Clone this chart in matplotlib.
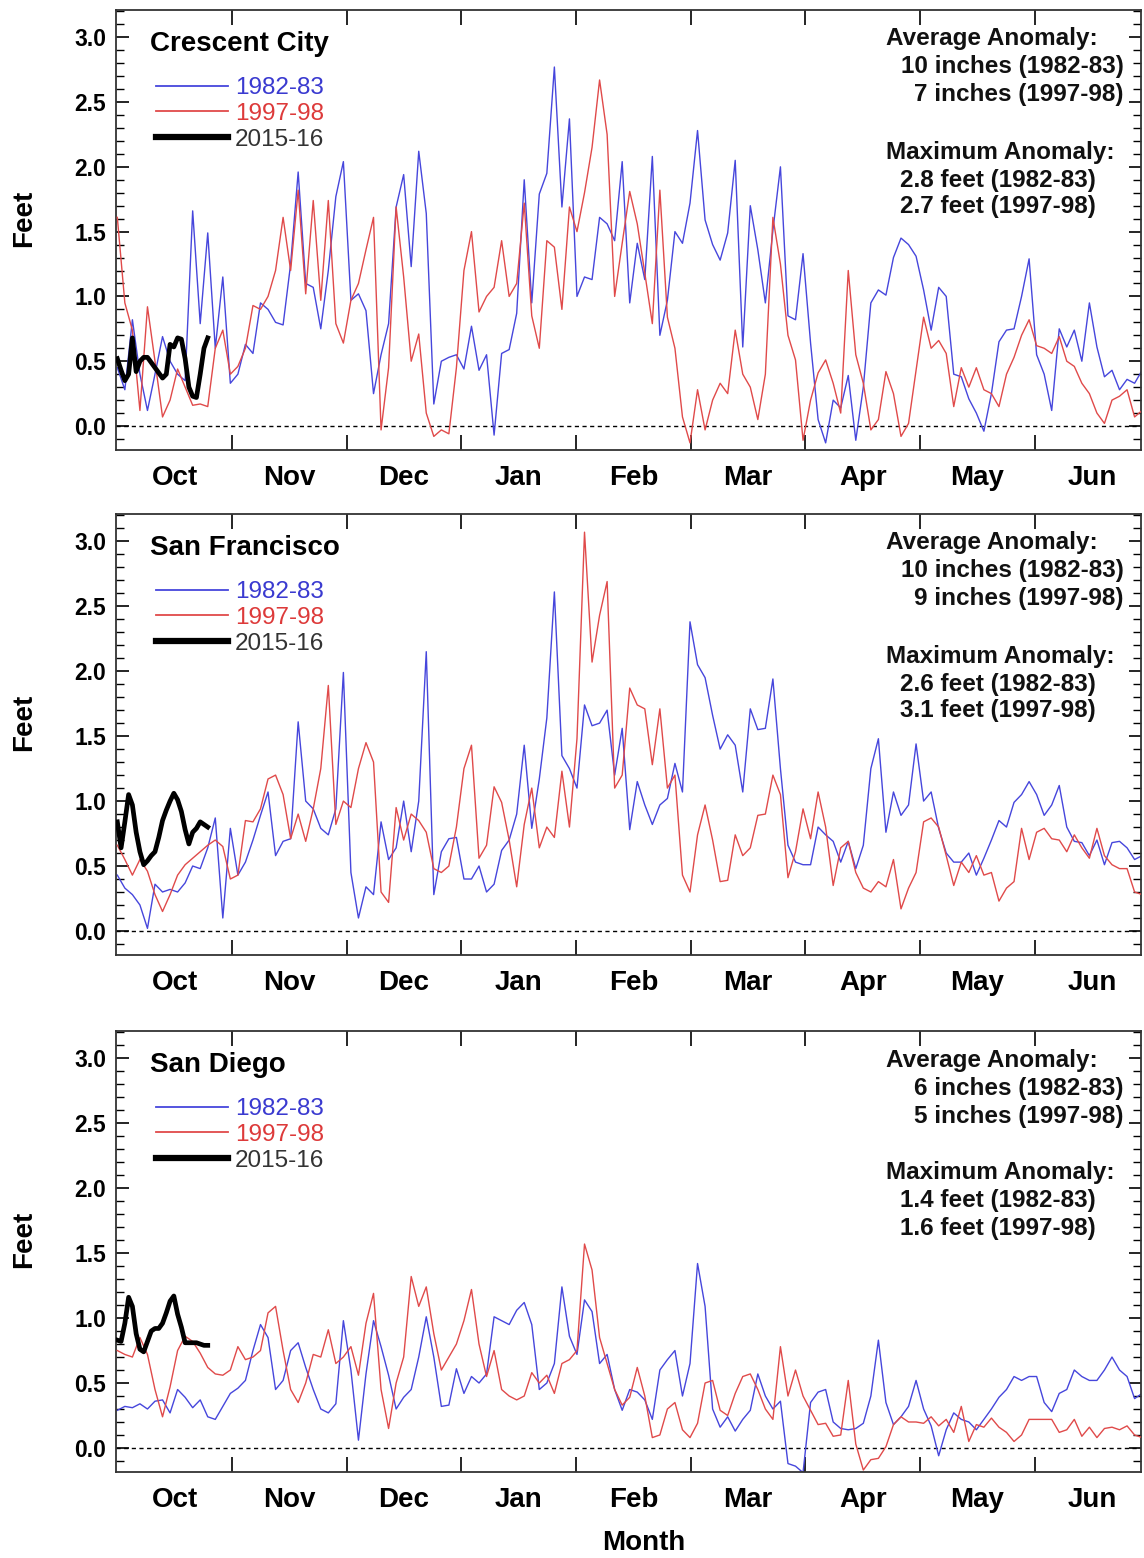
import numpy as np
import matplotlib
matplotlib.use('Agg')
import matplotlib.pyplot as plt
from matplotlib.lines import Line2D
from matplotlib.ticker import MultipleLocator

plt.rcParams['font.family'] = ['Liberation Sans', 'DejaVu Sans']

# daily sea level anomaly (feet), sampled every 2 days from Oct 1
cc_1982 = [0.45, 0.28, 0.82, 0.40, 0.12, 0.40, 0.69, 0.50, 0.40, 0.35,
           1.66, 0.79, 1.49, 0.60, 1.15, 0.33, 0.40, 0.63, 0.56, 0.95,
           0.90, 0.80, 0.78, 1.25, 1.96, 1.10, 1.07, 0.75, 1.20, 1.77,
           2.04, 0.97, 1.02, 0.89, 0.25, 0.55, 0.79, 1.69, 1.94, 1.23,
           2.12, 1.64, 0.17, 0.50, 0.53, 0.55, 0.44, 0.77, 0.43, 0.55,
           -0.07, 0.56, 0.59, 0.87, 1.90, 0.95, 1.79, 1.95, 2.77, 1.69,
           2.37, 1.00, 1.15, 1.13, 1.61, 1.56, 1.43, 2.04, 0.95, 1.41,
           1.13, 2.08, 0.70, 0.97, 1.50, 1.41, 1.72, 2.28, 1.59, 1.40,
           1.28, 1.49, 2.05, 0.61, 1.70, 1.36, 0.95, 1.51, 2.00, 0.85,
           0.82, 1.33, 0.64, 0.05, -0.13, 0.20, 0.14, 0.39, -0.11, 0.30,
           0.95, 1.05, 1.01, 1.30, 1.45, 1.40, 1.31, 1.05, 0.74, 1.07,
           1.00, 0.40, 0.38, 0.21, 0.10, -0.04, 0.25, 0.65, 0.74, 0.75,
           1.00, 1.29, 0.55, 0.40, 0.12, 0.75, 0.61, 0.74, 0.50, 0.95,
           0.61, 0.38, 0.43, 0.28, 0.36, 0.33, 0.43]
cc_1997 = [1.61, 0.95, 0.74, 0.12, 0.92, 0.50, 0.07, 0.20, 0.44, 0.30,
           0.16, 0.17, 0.15, 0.60, 0.74, 0.40, 0.46, 0.60, 0.93, 0.90,
           1.00, 1.20, 1.61, 1.20, 1.82, 1.02, 1.74, 0.97, 1.74, 0.79,
           0.64, 0.97, 1.10, 1.36, 1.61, -0.03, 0.45, 1.69, 1.15, 0.50,
           0.71, 0.10, -0.08, -0.03, -0.06, 0.45, 1.20, 1.50, 0.88, 1.00,
           1.07, 1.43, 1.00, 1.10, 1.72, 0.85, 0.60, 1.43, 1.38, 0.90,
           1.69, 1.50, 1.80, 2.15, 2.67, 2.25, 1.00, 1.41, 1.81, 1.56,
           1.18, 0.79, 1.82, 0.84, 0.60, 0.07, -0.13, 0.28, -0.03, 0.20,
           0.33, 0.25, 0.74, 0.40, 0.30, 0.05, 0.40, 1.61, 1.25, 0.70,
           0.51, -0.11, 0.20, 0.41, 0.51, 0.33, 0.10, 1.20, 0.55, 0.33,
           -0.03, 0.05, 0.42, 0.25, -0.08, 0.02, 0.43, 0.84, 0.60, 0.66,
           0.56, 0.15, 0.45, 0.30, 0.45, 0.28, 0.25, 0.15, 0.40, 0.53,
           0.70, 0.82, 0.62, 0.60, 0.56, 0.69, 0.50, 0.46, 0.33, 0.25,
           0.10, 0.02, 0.20, 0.23, 0.28, 0.07, 0.12]
# 2015-16: daily values from Oct 1
cc_2015 = [0.52, 0.43, 0.35, 0.40, 0.68, 0.42, 0.50, 0.53, 0.53, 0.49,
           0.45, 0.41, 0.37, 0.40, 0.63, 0.61, 0.68, 0.67, 0.52, 0.30,
           0.23, 0.22, 0.40, 0.60, 0.68]

sf_1982 = [0.43, 0.33, 0.28, 0.20, 0.02, 0.36, 0.30, 0.32, 0.30, 0.37,
           0.50, 0.48, 0.64, 0.87, 0.10, 0.79, 0.43, 0.53, 0.70, 0.89,
           1.07, 0.58, 0.69, 0.71, 1.61, 1.00, 0.94, 0.79, 0.74, 0.94,
           1.99, 0.45, 0.10, 0.34, 0.28, 0.84, 0.55, 0.64, 1.00, 0.61,
           1.00, 2.15, 0.28, 0.61, 0.71, 0.72, 0.40, 0.40, 0.50, 0.30,
           0.36, 0.62, 0.70, 0.90, 1.43, 0.79, 1.17, 1.64, 2.61, 1.35,
           1.25, 1.10, 1.74, 1.58, 1.60, 1.70, 1.20, 1.56, 0.78, 1.15,
           0.97, 0.82, 0.97, 1.02, 1.29, 1.07, 2.38, 2.05, 1.95, 1.66,
           1.40, 1.51, 1.43, 1.07, 1.71, 1.55, 1.56, 1.94, 1.25, 0.66,
           0.53, 0.51, 0.51, 0.80, 0.74, 0.69, 0.53, 0.69, 0.48, 0.66,
           1.25, 1.48, 0.76, 1.07, 0.89, 0.97, 1.44, 1.00, 1.07, 0.79,
           0.60, 0.53, 0.53, 0.60, 0.43, 0.56, 0.70, 0.85, 0.80, 0.99,
           1.05, 1.15, 1.05, 0.89, 0.97, 1.12, 0.80, 0.69, 0.68, 0.58,
           0.70, 0.51, 0.68, 0.69, 0.64, 0.55, 0.58]
sf_1997 = [0.66, 0.55, 0.43, 0.55, 0.46, 0.28, 0.15, 0.28, 0.43, 0.51,
           0.56, 0.61, 0.66, 0.70, 0.65, 0.40, 0.43, 0.85, 0.84, 0.94,
           1.17, 1.20, 1.05, 0.71, 0.90, 0.69, 0.94, 1.25, 1.89, 0.82,
           1.00, 0.95, 1.25, 1.45, 1.30, 0.30, 0.22, 0.95, 0.70, 0.90,
           0.85, 0.76, 0.48, 0.45, 0.50, 0.80, 1.25, 1.43, 0.56, 0.66,
           1.11, 0.99, 0.70, 0.34, 0.82, 1.10, 0.64, 0.80, 0.72, 1.23,
           0.80, 1.48, 3.07, 2.07, 2.43, 2.69, 1.10, 1.20, 1.87, 1.74,
           1.71, 1.28, 1.71, 1.10, 1.20, 0.43, 0.30, 0.74, 0.97, 0.70,
           0.38, 0.39, 0.74, 0.58, 0.64, 0.89, 0.90, 1.20, 1.05, 0.41,
           0.61, 0.94, 0.71, 1.07, 0.80, 0.35, 0.64, 0.69, 0.45, 0.33,
           0.30, 0.38, 0.34, 0.55, 0.17, 0.33, 0.45, 0.84, 0.87, 0.80,
           0.58, 0.35, 0.53, 0.45, 0.58, 0.43, 0.45, 0.23, 0.33, 0.38,
           0.79, 0.55, 0.76, 0.79, 0.71, 0.70, 0.61, 0.74, 0.64, 0.56,
           0.79, 0.58, 0.51, 0.48, 0.48, 0.30, 0.28]
sf_2015 = [0.84, 0.64, 0.84, 1.05, 0.97, 0.76, 0.61, 0.51, 0.54, 0.58,
           0.61, 0.72, 0.85, 0.93, 1.00, 1.06, 1.01, 0.92, 0.78, 0.67,
           0.76, 0.79, 0.84, 0.82, 0.80]

sd_1982 = [0.29, 0.32, 0.31, 0.34, 0.30, 0.36, 0.37, 0.27, 0.45, 0.39,
           0.31, 0.37, 0.24, 0.22, 0.32, 0.42, 0.46, 0.52, 0.75, 0.95,
           0.85, 0.45, 0.52, 0.75, 0.81, 0.62, 0.45, 0.30, 0.27, 0.34,
           0.98, 0.60, 0.06, 0.57, 0.98, 0.78, 0.56, 0.30, 0.39, 0.45,
           0.70, 1.01, 0.70, 0.32, 0.33, 0.61, 0.42, 0.55, 0.50, 0.57,
           1.01, 0.98, 0.95, 1.06, 1.12, 0.95, 0.45, 0.50, 0.65, 1.24,
           0.86, 0.72, 1.14, 1.05, 0.65, 0.72, 0.45, 0.29, 0.45, 0.43,
           0.37, 0.22, 0.60, 0.68, 0.75, 0.40, 0.65, 1.42, 1.09, 0.30,
           0.16, 0.24, 0.13, 0.22, 0.29, 0.57, 0.40, 0.30, 0.36, -0.12,
           -0.14, -0.19, 0.35, 0.43, 0.45, 0.20, 0.15, 0.14, 0.15, 0.19,
           0.40, 0.83, 0.35, 0.18, 0.24, 0.32, 0.52, 0.30, 0.17, -0.06,
           0.14, 0.27, 0.22, 0.20, 0.14, 0.22, 0.30, 0.39, 0.45, 0.55,
           0.52, 0.55, 0.55, 0.35, 0.28, 0.42, 0.45, 0.60, 0.55, 0.52,
           0.52, 0.60, 0.70, 0.60, 0.55, 0.38, 0.42]
sd_1997 = [0.75, 0.72, 0.70, 0.85, 0.72, 0.45, 0.24, 0.47, 0.75, 0.86,
           0.82, 0.73, 0.62, 0.57, 0.56, 0.60, 0.78, 0.68, 0.70, 0.75,
           1.04, 1.09, 0.75, 0.45, 0.35, 0.50, 0.72, 0.70, 0.91, 0.65,
           0.70, 0.78, 0.56, 0.96, 1.19, 0.45, 0.15, 0.50, 0.70, 1.32,
           1.09, 1.24, 0.88, 0.60, 0.70, 0.80, 0.98, 1.22, 0.80, 0.55,
           0.75, 0.45, 0.40, 0.37, 0.40, 0.58, 0.50, 0.56, 0.42, 0.65,
           0.68, 0.75, 1.57, 1.37, 0.85, 0.65, 0.45, 0.33, 0.39, 0.62,
           0.40, 0.08, 0.10, 0.30, 0.35, 0.14, 0.08, 0.19, 0.50, 0.52,
           0.29, 0.25, 0.42, 0.55, 0.57, 0.45, 0.30, 0.22, 0.78, 0.40,
           0.60, 0.40, 0.29, 0.18, 0.19, 0.09, 0.10, 0.52, 0.03, -0.17,
           -0.09, -0.08, 0.01, 0.18, 0.24, 0.20, 0.20, 0.19, 0.24, 0.17,
           0.22, 0.12, 0.32, 0.05, 0.18, 0.16, 0.23, 0.16, 0.12, 0.05,
           0.10, 0.22, 0.22, 0.22, 0.22, 0.12, 0.14, 0.22, 0.09, 0.16,
           0.08, 0.15, 0.16, 0.14, 0.17, 0.10, 0.08]
sd_2015 = [0.83, 0.82, 0.96, 1.16, 1.09, 0.88, 0.76, 0.74, 0.82, 0.90,
           0.92, 0.92, 0.96, 1.04, 1.13, 1.17, 1.03, 0.93, 0.81, 0.81,
           0.81, 0.81, 0.80, 0.79, 0.79]

stations = ['Crescent City', 'San Francisco', 'San Diego']
avg_82 = ['10 inches (1982-83)', '10 inches (1982-83)', '6 inches (1982-83)']
avg_97 = ['7 inches (1997-98)', '9 inches (1997-98)', '5 inches (1997-98)']
max_82 = ['2.8 feet (1982-83)', '2.6 feet (1982-83)', '1.4 feet (1982-83)']
max_97 = ['2.7 feet (1997-98)', '3.1 feet (1997-98)', '1.6 feet (1997-98)']
months = ['Oct', 'Nov', 'Dec', 'Jan', 'Feb', 'Mar', 'Apr', 'May', 'Jun']
seasons = ['1982-83', '1997-98', '2015-16']

series = [(cc_1982, cc_1997, cc_2015),
          (sf_1982, sf_1997, sf_2015),
          (sd_1982, sd_1997, sd_2015)]

BLUE = '#4646dc'
RED = '#e04a4a'
MONTH = 365.25 / 12
W, H = 1144, 1558

fig = plt.figure(figsize=(W / 100, H / 100), dpi=100)

# panel tops / bottoms in pixels
panels = [(10, 450), (514, 955), (1031, 1472)]
left_px, right_px = 116, 1141
span = right_px - left_px


def frac_down(px, top, bot):
    # axes fraction for a pixel offset below the axes top
    return 1 - px / (bot - top)


for i, (top, bot) in enumerate(panels):
    ax = fig.add_axes([left_px / W, 1 - bot / H, span / W, (bot - top) / H])
    s82, s97, s15 = series[i]

    days = np.arange(0, 2 * len(s82), 2)
    ax.axhline(0, color='black', lw=1.0, ls=(0, (3, 2.5)), zorder=1)
    ax.plot(days, s82, color=BLUE, lw=1.0, zorder=2)
    ax.plot(days, s97, color=RED, lw=1.0, zorder=3)
    ax.plot(np.arange(len(s15)), s15, color='black', lw=3.4, zorder=4,
            solid_joinstyle='round')

    ax.set_xlim(-0.35, 271.7)
    ax.set_ylim(-0.185, 3.21)

    ax.set_xticks(MONTH * np.arange(1, 9))
    ax.set_xticklabels([])
    ax.set_xticks(MONTH * (np.arange(9) + 0.5), minor=True)
    ax.set_xticklabels(months, minor=True, fontsize=20, fontweight='bold')
    ax.tick_params(axis='x', which='major', direction='in', length=11, width=1.2,
                   top=True, bottom=True)
    ax.tick_params(axis='x', which='minor', length=0, pad=10.5)

    yt = np.arange(0, 3.01, 0.5)
    ax.set_yticks(yt)
    ax.set_yticklabels([f'{v:.1f}' for v in yt], fontsize=16.5, fontweight='bold')
    ax.yaxis.set_minor_locator(MultipleLocator(0.1))
    ax.tick_params(axis='y', which='both', direction='in', left=True, right=True, pad=7)
    ax.tick_params(axis='y', which='major', length=9, width=1.2)
    ax.tick_params(axis='y', which='minor', length=6, width=1.0)

    for sp in ax.spines.values():
        sp.set_linewidth(1.3)
        sp.set_color('#333333')

    ax.set_ylabel('Feet', fontsize=20, fontweight='bold', va='center')
    ax.yaxis.set_label_coords((24 - left_px) / span, 0.527)

    # station name
    ax.text((150 - left_px) / span, frac_down(34, top, bot), stations[i],
            transform=ax.transAxes, fontsize=20, fontweight='bold', va='center', ha='left')

    # legend
    handles = [Line2D([], [], color=BLUE, lw=1.3),
               Line2D([], [], color=RED, lw=1.3),
               Line2D([], [], color='black', lw=4.5)]
    leg = ax.legend(handles, seasons, loc='upper left',
                    bbox_to_anchor=((156 - left_px) / span, frac_down(67, top, bot)),
                    frameon=False, fontsize=17.5, handlelength=2.95, handletextpad=0.3,
                    labelspacing=0.16, borderpad=0, borderaxespad=0)
    for t, c in zip(leg.get_texts(), ['#3a3ad0', '#dd3a3a', '#333333']):
        t.set_color(c)

    # anomaly summary
    kw = dict(transform=ax.transAxes, fontsize=17.5, fontweight='bold', va='center',
              color='#111111')
    ax.text((886 - left_px) / span, frac_down(29, top, bot), 'Average Anomaly:', ha='left', **kw)
    ax.text((1124 - left_px) / span, frac_down(57, top, bot), avg_82[i], ha='right', **kw)
    ax.text((1124 - left_px) / span, frac_down(85, top, bot), avg_97[i], ha='right', **kw)
    ax.text((886 - left_px) / span, frac_down(142, top, bot), 'Maximum Anomaly:', ha='left', **kw)
    ax.text((900 - left_px) / span, frac_down(170, top, bot), max_82[i], ha='left', **kw)
    ax.text((900 - left_px) / span, frac_down(197, top, bot), max_97[i], ha='left', **kw)

fig.text(644 / W, 1 - 1543 / H, 'Month', ha='center', va='center', fontsize=20, fontweight='bold')

fig.savefig('out.png', dpi=100)
